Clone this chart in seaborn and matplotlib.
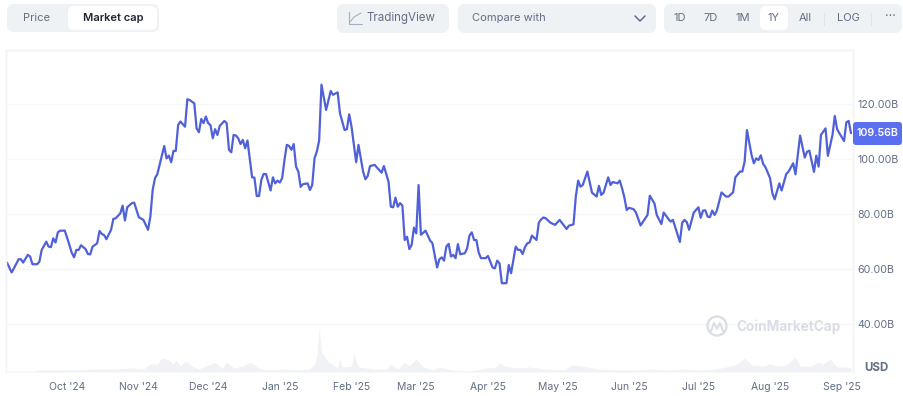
# Market cap chart, 1Y view

import numpy as np
import pandas as pd
import matplotlib
matplotlib.use('Agg')
import matplotlib.pyplot as plt
from matplotlib.patches import FancyBboxPatch, Circle
import seaborn as sns

# Days since 5 Sep 2024 and market cap in billions
cap_days = [0, 2, 3, 5, 6, 7, 9, 10, 11, 13, 14, 15, 17, 18, 19, 20, 21, 22, 23, 25, 27, 28, 29, 30, 31, 32, 34, 35, 36, 37,
            39, 40, 41, 42, 43, 45, 46, 47, 49, 50, 51, 52, 54, 55, 57, 59, 61, 62, 63, 64, 65, 66, 68, 69, 70, 71, 72, 73, 74, 75,
            77, 78, 79, 81, 82, 83, 84, 85, 86, 87, 88, 89, 90, 91, 92, 94, 95, 96, 97, 98, 99, 100, 101, 102, 103, 104, 106, 107, 108, 109,
            110, 111, 112, 114, 115, 116, 117, 118, 119, 120, 121, 122, 123, 124, 125, 126, 127, 128, 130, 131, 132, 133, 134, 135, 136, 138, 140, 141, 143, 144,
            146, 147, 148, 149, 151, 152, 154, 155, 156, 157, 159, 162, 163, 164, 165, 166, 167, 168, 169, 170, 171, 172, 173, 174, 175, 176, 177, 178, 179, 181,
            183, 184, 186, 187, 188, 189, 190, 191, 192, 193, 194, 195, 196, 198, 199, 200, 201, 202, 203, 204, 205, 207, 208, 210, 211, 212, 213, 214, 216, 217,
            218, 220, 221, 222, 223, 224, 225, 226, 227, 229, 230, 231, 232, 233, 235, 237, 239, 242, 243, 245, 246, 247, 248, 249, 251, 253, 255, 256, 257, 258,
            260, 261, 262, 264, 265, 266, 267, 268, 269, 271, 272, 274, 277, 278, 280, 281, 283, 284, 286, 287, 288, 291, 292, 293, 294, 295, 297, 299, 300, 301,
            302, 303, 304, 305, 306, 307, 309, 311, 312, 314, 315, 317, 318, 319, 320, 322, 323, 324, 325, 326, 327, 328, 330, 331, 332, 334, 335, 337, 338, 340,
            341, 343, 345, 346, 347, 349, 350, 351, 352, 354, 355, 357, 358, 359, 360, 362, 363, 364, 365]
market_cap = [62.5, 58.9, 60.4, 63.7, 63.7, 62.5, 65.3, 64.7, 61.9, 61.9, 62.8, 67.1, 70.1, 68.3, 68.1, 71.3, 69.8, 73.5, 74.1, 74.1, 68.9, 66.1, 64.4, 67.1, 67.1, 68.8, 67.4, 65.6, 65.5, 68.3,
              69.5, 74.0, 72.9, 72.5, 71.0, 74.4, 78.4, 78.6, 80.4, 83.2, 77.8, 82.6, 84.1, 84.3, 79.0, 78.0, 74.4, 79.2, 88.9, 93.2, 94.6, 98.0, 104.9, 100.4, 101.4, 99.0, 103.1, 103.1, 112.5, 113.8,
              111.9, 121.9, 121.6, 120.4, 111.3, 109.9, 114.7, 113.2, 115.6, 113.2, 112.5, 107.7, 111.0, 108.9, 112.2, 114.0, 113.2, 103.5, 102.6, 108.9, 108.7, 107.7, 105.6, 107.1, 104.1, 106.9, 93.5, 93.4, 86.7, 86.7,
              92.6, 94.7, 94.7, 88.7, 93.5, 91.3, 92.3, 91.6, 93.2, 99.8, 105.3, 104.9, 103.5, 105.6, 97.4, 95.6, 90.0, 91.0, 91.3, 88.9, 90.7, 100.4, 102.9, 106.9, 127.2, 118.0, 124.9, 123.5, 124.4, 116.8,
              110.7, 111.0, 116.4, 111.9, 99.0, 105.3, 95.6, 92.8, 94.0, 97.6, 98.0, 95.2, 97.6, 94.7, 91.9, 82.8, 82.6, 86.1, 82.8, 84.1, 83.2, 70.7, 71.9, 67.4, 68.9, 75.2, 73.1, 90.7, 72.6, 74.1,
              70.5, 69.5, 60.7, 63.7, 64.4, 63.2, 68.3, 69.3, 64.7, 65.3, 64.1, 69.2, 65.5, 65.9, 67.7, 72.3, 73.5, 70.7, 70.7, 66.1, 64.1, 64.1, 64.9, 60.7, 60.4, 63.2, 62.2, 55.0, 55.0, 61.6,
              58.6, 68.3, 67.1, 67.1, 65.6, 68.1, 69.5, 69.8, 72.3, 70.7, 77.0, 78.2, 78.9, 78.6, 77.0, 76.2, 78.0, 74.7, 75.9, 76.4, 86.5, 92.3, 90.1, 90.7, 95.6, 87.9, 86.5, 90.4, 87.1, 87.9,
              93.5, 90.7, 91.8, 91.3, 92.3, 89.5, 86.2, 81.6, 82.4, 81.9, 80.7, 76.0, 79.8, 86.8, 84.0, 79.8, 76.5, 80.7, 78.4, 77.4, 78.0, 70.0, 77.0, 78.0, 77.2, 74.4, 80.7, 82.6, 78.8, 81.4,
              81.5, 79.2, 79.0, 81.4, 79.8, 81.4, 88.0, 86.5, 86.5, 88.0, 93.5, 95.6, 95.6, 99.2, 110.7, 101.6, 98.6, 100.4, 99.8, 101.5, 98.4, 97.2, 93.2, 87.7, 85.5, 91.3, 88.7, 94.7, 95.6, 98.6,
              94.6, 108.7, 100.7, 102.8, 103.2, 95.5, 101.4, 97.4, 108.9, 111.3, 101.3, 108.9, 115.8, 111.0, 109.5, 106.7, 113.5, 114.0, 109.56]

# Volume strip along the bottom, rough heights
vol_days = [0, 11, 14, 26, 40, 46, 54, 59, 62, 65, 67, 70, 72, 73, 75, 77, 80, 83, 88, 90, 93, 95, 98, 102, 105, 108, 112, 119, 126, 131,
            133, 134, 135, 136, 139, 141, 143, 144, 145, 149, 150, 152, 158, 164, 166, 169, 172, 174, 177, 180, 184, 187, 192, 199, 206, 209, 211, 213, 215, 220,
            226, 233, 241, 244, 249, 255, 264, 271, 278, 285, 292, 300, 307, 311, 315, 319, 322, 327, 330, 333, 337, 341, 343, 348, 351, 353, 356, 359, 363, 365]
volume = [1, 1, 2, 2, 3, 3, 4, 3, 8, 8, 14, 12, 8, 12, 6, 11, 6, 3, 8, 9, 4, 10, 4, 6, 10, 5, 2, 3, 2, 3,
          8, 16, 45, 20, 10, 7, 4, 14, 5, 6, 18, 5, 3, 3, 8, 3, 10, 6, 13, 5, 2, 5, 2, 1, 3, 5, 4, 9, 6, 4,
          5, 3, 2, 7, 6, 3, 2, 2, 3, 2, 3, 2, 3, 5, 7, 14, 7, 6, 8, 6, 7, 15, 6, 6, 10, 8, 13, 5, 5, 4]

start_date = pd.Timestamp("2024-09-05")
month_starts = ["2024-10-01", "2024-11-01", "2024-12-01", "2025-01-01", "2025-02-01", "2025-03-01",
                "2025-04-01", "2025-05-01", "2025-06-01", "2025-07-01", "2025-08-01", "2025-09-01"]
month_labels = ["Oct '24", "Nov '24", "Dec '24", "Jan '25", "Feb '25", "Mar '25",
                "Apr '25", "May '25", "Jun '25", "Jul '25", "Aug '25", "Sep '25"]
y_ticks = [40, 60, 80, 100, 120]

sns.set_theme(style="white")
plt.rcParams['font.family'] = ['Inter', 'DejaVu Sans']

W, H = 904, 396
grey = "#616e85"
pale = "#eff2f5"
line_col = "#5060d8"

fig = plt.figure(figsize=(W / 100, H / 100), dpi=100)
ax = fig.add_axes([6 / W, 1 - 372 / H, 847 / W, 322 / H])
ax_vol = ax.twinx()
ax.set_zorder(ax_vol.get_zorder() + 1)
ax.patch.set_visible(False)

df = pd.DataFrame({"date": start_date + pd.to_timedelta(cap_days, unit="D"), "cap": market_cap})
vol = pd.DataFrame({"date": start_date + pd.to_timedelta(vol_days, unit="D"), "volume": volume})

ax_vol.fill_between(vol["date"], 0, vol["volume"], color="#f1f2f6", lw=0)
ax_vol.set_ylim(0, 322)
ax_vol.set_yticks([])
ax_vol.grid(False)

sns.lineplot(data=df, x="date", y="cap", ax=ax, color=line_col, lw=1.6)
ax.set_xlim(start_date - pd.Timedelta(days=0.43), start_date + pd.Timedelta(days=365.87))
ax.set_ylim(22.7, 139.8)
ax.set_xlabel("")
ax.set_ylabel("")
ax.yaxis.tick_right()
ax.set_yticks(y_ticks)
ax.set_yticklabels([f"{v:.2f}B" for v in y_ticks])
ax.set_xticks(pd.to_datetime(month_starts))
ax.set_xticklabels(month_labels)
ax.tick_params(axis="y", length=0, pad=3.5, labelsize=7.7, labelcolor=grey)
ax.tick_params(axis="x", length=0, pad=7.5, labelsize=7.5, labelcolor=grey)
ax.grid(axis="y", color="#f5f6f8", lw=1)
ax.grid(axis="x", visible=False)
for a in [ax, ax_vol]:
    for name, s in a.spines.items():
        s.set_color("#f3f4f7")
        s.set_linewidth(1)
        s.set_visible(name != "bottom")

# Overlay in pixel coordinates for the buttons, watermark and price tag
ui = fig.add_axes([0, 0, 1, 1], zorder=5)
ui.set_xlim(0, W)
ui.set_ylim(H, 0)
ui.axis("off")


def box(x0, y0, x1, y1, col, r=6):
    ui.add_patch(FancyBboxPatch((x0 + r, y0 + r), x1 - x0 - 2 * r, y1 - y0 - 2 * r,
                                boxstyle=f"round,pad={r},rounding_size={r}", fc=col, ec="none"))


def label(x, y, s, col=grey, weight="normal", size=8, ha="center"):
    ui.text(x, y, s, color=col, fontweight=weight, fontsize=size, ha=ha, va="center")


box(7, 4, 159, 32, pale, 7)
box(68, 6, 157, 30, "white", 6)
box(337, 4, 449, 33, pale, 7)
box(458, 4, 656, 33, pale, 7)
box(664, 4, 902, 33, pale, 7)
box(760, 6, 788, 30, "white", 6)

label(37, 18, "Price")
label(113, 18, "Market cap", col="#222531", weight="semibold")
label(401, 18, "TradingView", size=8.3)
label(472, 18, "Compare with", ha="left")
for x, s in zip([680, 711, 743, 774, 805, 848], ["1D", "7D", "1M", "1Y", "All", "LOG"]):
    label(x, 18, s)
label(890, 17, "···", size=9)
ui.plot([824, 824], [13, 25], color="#dfe2e8", lw=0.8)
ui.plot([871, 871], [13, 25], color="#dfe2e8", lw=0.8)
ui.plot([635, 640, 645], [16, 21, 16], color=grey, lw=1.1)
ui.plot([349, 349, 362], [12, 24, 24], color="#a6b0c3", lw=0.8)
ui.plot([350, 354, 361], [22, 17, 13], color="#a6b0c3", lw=0.8)

# Watermark
ui.add_patch(Circle((717, 326), 9.5, fc="none", ec="#dadde5", lw=1.6))
ui.plot([711, 714, 717, 720, 723], [331, 323, 329, 323, 331], color="#dadde5", lw=1.4)
label(736, 327, "CoinMarketCap", col="#dadde5", weight="bold", size=9.8, ha="left")

label(876, 368, "USD", weight="bold", size=8.3)

# Last value tag
box(853, 122, 902, 145, "#5a6ff0", 3)
label(878, 133.5, f"{market_cap[-1]:.2f}B", col="white", weight="semibold", size=7.7)

fig.savefig("out.png", dpi=100)
